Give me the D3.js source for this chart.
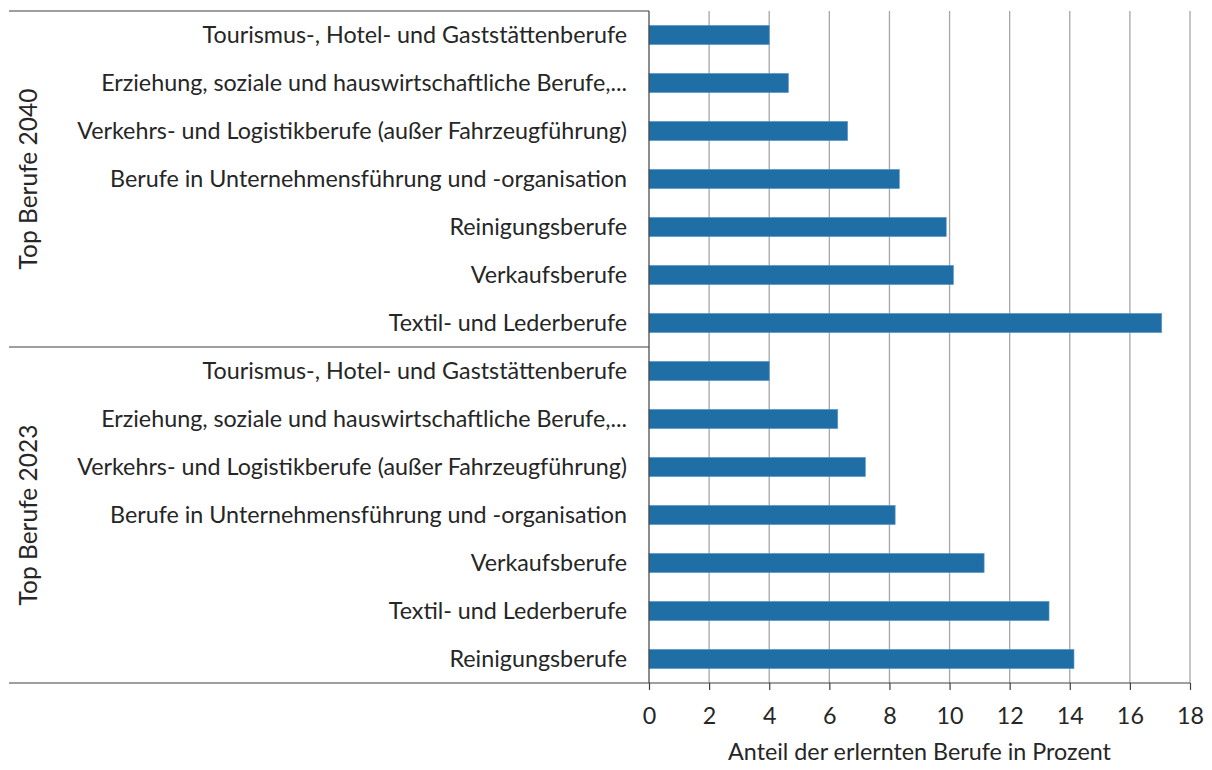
<!DOCTYPE html>
<html>
<head>
<meta charset="utf-8">
<script src="https://cdn.jsdelivr.net/npm/d3@7"></script>
<style>
  body { margin: 0; background: #fff; }
  svg text { font-family: Lato, "Open Sans", sans-serif; fill: #262626; }
</style>
</head>
<body>
<svg id="chart" width="1212" height="770"></svg>
<script>
const groups = ["Top Berufe 2040", "Top Berufe 2023"]

const berufe2040 = [
  "Tourismus-, Hotel- und Gaststättenberufe",
  "Erziehung, soziale und hauswirtschaftliche Berufe,...",
  "Verkehrs- und Logistikberufe (außer Fahrzeugführung)",
  "Berufe in Unternehmensführung und -organisation",
  "Reinigungsberufe",
  "Verkaufsberufe",
  "Textil- und Lederberufe"
]
const werte2040 = [4.0, 4.64, 6.61, 8.33, 9.89, 10.13, 17.06]

const berufe2023 = [
  "Tourismus-, Hotel- und Gaststättenberufe",
  "Erziehung, soziale und hauswirtschaftliche Berufe,...",
  "Verkehrs- und Logistikberufe (außer Fahrzeugführung)",
  "Berufe in Unternehmensführung und -organisation",
  "Verkaufsberufe",
  "Textil- und Lederberufe",
  "Reinigungsberufe"
]
const werte2023 = [4.0, 6.28, 7.2, 8.19, 11.15, 13.31, 14.14]

const xTicks = [0, 2, 4, 6, 8, 10, 12, 14, 16, 18]
const xTitle = "Anteil der erlernten Berufe in Prozent"

// rows, top to bottom
const rows = berufe2040.map((b, i) => ({ id: "a" + i, group: 0, label: b, value: werte2040[i] }))
  .concat(berufe2023.map((b, i) => ({ id: "b" + i, group: 1, label: b, value: werte2023[i] })))

const margin = { top: 11, right: 22, bottom: 87, left: 649 },
      width = 1212 - margin.left - margin.right,
      height = 770 - margin.top - margin.bottom

const fs = "23.3px"

const svg = d3.select("#chart")
const g = svg.append("g").attr("transform", `translate(${margin.left},${margin.top})`)

const x = d3.scaleLinear().domain([0, 18]).range([0, width])
const y = d3.scaleBand().domain(rows.map(d => d.id)).range([0, height])
    .paddingInner(0.6).paddingOuter(0.3)

// gridlines
g.append("g").selectAll("line")
    .data(xTicks.slice(1))
  .enter().append("line")
    .attr("x1", d => x(d)).attr("x2", d => x(d))
    .attr("y1", 0).attr("y2", height)
    .attr("stroke", "#a6a6a6").attr("stroke-width", 1.3)

// bars
g.append("g").selectAll("rect")
    .data(rows)
  .enter().append("rect")
    .attr("x", x(0))
    .attr("y", d => y(d.id))
    .attr("width", d => x(d.value) - x(0))
    .attr("height", y.bandwidth())
    .attr("fill", "#1f6ea5")
    .attr("stroke", "#5f9acb").attr("stroke-width", 0.6)

// category labels
g.append("g").selectAll("text")
    .data(rows)
  .enter().append("text")
    .attr("x", -22)
    .attr("y", d => y(d.id) + y.bandwidth() / 2)
    .attr("dy", "0.36em")
    .attr("text-anchor", "end")
    .style("font-size", fs)
    .text(d => d.label)

// y axis line, group frame lines
const stepH = y.step()
g.append("line").attr("x1", 0).attr("x2", 0).attr("y1", 0).attr("y2", height)
    .attr("stroke", "#404040").attr("stroke-width", 1.2)
g.selectAll(".sep")
    .data([0, berufe2040.length])
  .enter().append("line")
    .attr("x1", 9 - margin.left).attr("x2", 0)
    .attr("y1", d => d * stepH).attr("y2", d => d * stepH)
    .attr("stroke", "#404040").attr("stroke-width", 1.2)

// group labels
g.selectAll(".grp")
    .data(groups)
  .enter().append("text")
    .attr("transform", (d, i) => {
      const n = i === 0 ? berufe2040.length : berufe2023.length
      const start = i === 0 ? 0 : berufe2040.length
      return `translate(${37 - margin.left},${(start + n / 2) * stepH}) rotate(-90)`
    })
    .attr("text-anchor", "middle")
    .style("font-size", "24.5px")
    .text(d => d)

// x axis
const xAxis = g.append("g").attr("transform", `translate(0,${height})`)
    .call(d3.axisBottom(x).tickValues(xTicks).tickSize(7).tickPadding(17))
xAxis.select(".domain").remove()
xAxis.selectAll(".tick line").attr("stroke", "#404040").attr("stroke-width", 1.2)
xAxis.selectAll(".tick text").style("font-size", fs).attr("fill", "#262626")
    .style("font-family", "Lato, 'Open Sans', sans-serif")
g.append("line").attr("x1", 9 - margin.left).attr("x2", width)
    .attr("y1", height).attr("y2", height)
    .attr("stroke", "#404040").attr("stroke-width", 1.2)

g.append("text")
    .attr("x", width / 2).attr("y", height + 77)
    .attr("text-anchor", "middle")
    .style("font-size", fs)
    .text(xTitle)
</script>
</body>
</html>
